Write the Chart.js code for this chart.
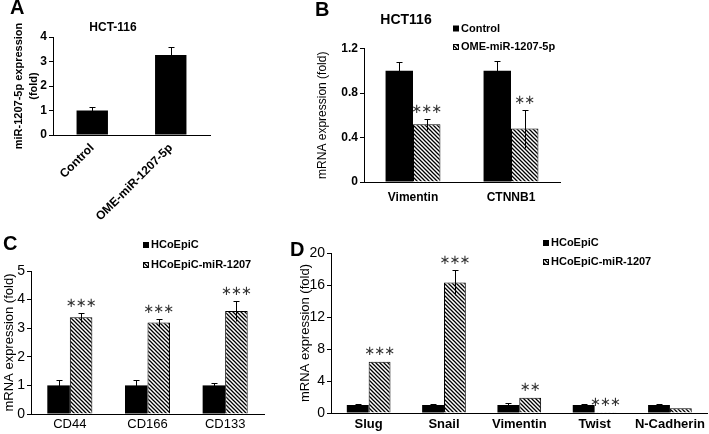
<!DOCTYPE html>
<html>
<head>
<meta charset="utf-8">
<script src="https://cdn.jsdelivr.net/npm/chart.js@4.4.1/dist/chart.umd.min.js"></script>
<style>
  html, body { margin: 0; padding: 0; background: #fff; }
  #fig { position: relative; width: 709px; height: 434px; overflow: hidden; }
  #fig canvas { position: absolute; }
  .tag { position: absolute; z-index: 5; color: #000; font: bold 20px/20px "Liberation Sans", Arial, sans-serif; }
</style>
</head>
<body>
<div id="fig">
  <canvas id="chartA" width="240" height="240" style="left:0;top:0"></canvas>
  <canvas id="chartB" width="469" height="215" style="left:240px;top:0"></canvas>
  <canvas id="chartC" width="296" height="219" style="left:0;top:215px"></canvas>
  <canvas id="chartD" width="413" height="219" style="left:296px;top:215px"></canvas>
  <div class="tag" style="left:10px;top:-3px">A</div>
  <div class="tag" style="left:315px;top:-1px">B</div>
  <div class="tag" style="left:3px;top:233px">C</div>
  <div class="tag" style="left:290px;top:239px">D</div>
</div>
<script>
// ── Data ──────────────────────────────────────────────────────
const aLabels = ['Control', 'OME-miR-1207-5p'];
const aValues = [1.0, 3.27];
const aErrors = [0.14, 0.32];

const bLabels     = ['Vimentin', 'CTNNB1'];
const bControl    = [1.0, 1.0];
const bControlErr = [0.08, 0.09];
const bOme        = [0.52, 0.48];
const bOmeErr     = [0.05, 0.17];
const bStars      = ['***', '**'];

const cLabels    = ['CD44', 'CD166', 'CD133'];
const cParent    = [1.0, 1.0, 1.0];
const cParentErr = [0.2, 0.2, 0.07];
const cMir       = [3.38, 3.2, 3.6];
const cMirErr    = [0.15, 0.13, 0.35];
const cStars     = ['***', '***', '***'];

const dLabels    = ['Slug', 'Snail', 'Vimentin', 'Twist', 'N-Cadherin'];
const dParent    = [1.0, 1.0, 1.0, 1.0, 1.0];
const dParentErr = [0.08, 0.1, 0.3, 0.12, 0.08];
const dMir       = [6.4, 16.3, 1.9, 0.1, 0.6];
const dMirErr    = [0, 1.6, 0, 0, 0];
const dStars     = ['***', '***', '**', '***', ''];

const FONT = '"Liberation Sans", Arial, sans-serif';

// diagonal hatch fill
function hatch(canvasId) {
  const s = 4;
  const c = document.createElement('canvas');
  c.width = s; c.height = s;
  const g = c.getContext('2d');
  g.fillStyle = '#fff';
  g.fillRect(0, 0, s, s);
  g.strokeStyle = '#000';
  g.lineWidth = 1.3;
  g.beginPath();
  g.moveTo(-1, -1); g.lineTo(s + 1, s + 1);
  g.moveTo(-1, s - 1); g.lineTo(1, s + 1);
  g.moveTo(s - 1, -1); g.lineTo(s + 1, 1);
  g.stroke();
  return document.getElementById(canvasId).getContext('2d').createPattern(c, 'repeat');
}

// ── Error bars, stars, titles, legends ────────────────────────
const decor = {
  id: 'decor',
  afterDatasetsDraw(chart, args, opts) {
    const ctx = chart.ctx;
    const yScale = chart.scales.y;
    ctx.save();
    chart.data.datasets.forEach((ds, di) => {
      chart.getDatasetMeta(di).data.forEach((bar, i) => {
        const v = ds.data[i];
        const e = ds.errors ? ds.errors[i] : 0;
        const x = Math.round(bar.x) + 0.5;
        let top = bar.y;
        if (e) {
          const yt = Math.round(yScale.getPixelForValue(v + e)) + 0.5;
          const yb = Math.round(yScale.getPixelForValue(v - e)) + 0.5;
          ctx.strokeStyle = '#000';
          ctx.lineWidth = 1;
          ctx.beginPath();
          ctx.moveTo(x, yb); ctx.lineTo(x, yt);
          ctx.moveTo(x - 3, yt); ctx.lineTo(x + 3, yt);
          ctx.stroke();
          top = yt;
        }
        const st = ds.stars ? ds.stars[i] : '';
        if (st) {
          ctx.fillStyle = '#333';
          ctx.font = '13px "DejaVu Sans", sans-serif';
          ctx.textAlign = 'center';
          ctx.textBaseline = 'middle';
          for (let k = 0; k < st.length; k++) {
            ctx.fillText('\u2217', bar.x + (k - (st.length - 1) / 2) * 10, top - 10);
          }
        }
      });
    });

    if (opts.title) {
      ctx.fillStyle = '#000';
      ctx.font = `bold ${opts.title.size}px ${FONT}`;
      ctx.textAlign = 'center';
      ctx.textBaseline = 'middle';
      ctx.fillText(opts.title.text, opts.title.x, opts.title.y);
    }

    if (opts.legend) {
      const L = opts.legend;
      chart.data.datasets.forEach((ds, di) => {
        const y = L.y + di * L.gap;
        ctx.fillStyle = ds.backgroundColor;
        ctx.fillRect(L.x, y - 3, 6, 6);
        if (ds.borderWidth) {
          ctx.strokeStyle = '#000';
          ctx.lineWidth = 1;
          ctx.strokeRect(L.x + 0.5, y - 2.5, 5, 5);
        }
        ctx.fillStyle = '#000';
        ctx.font = `bold 11px ${FONT}`;
        ctx.textAlign = 'left';
        ctx.textBaseline = 'middle';
        ctx.fillText(ds.label, L.x + 8, y);
      });
    }
    ctx.restore();
  }
};

// ── Shared chart builder ──────────────────────────────────────
function makeChart(id, p) {
  return new Chart(document.getElementById(id), {
    type: 'bar',
    data: { labels: p.labels, datasets: p.datasets },
    plugins: [decor],
    options: {
      responsive: false,
      animation: false,
      devicePixelRatio: 1,
      layout: { padding: { left: 0, top: p.top, right: p.right, bottom: 0 } },
      plugins: {
        legend: { display: false },
        tooltip: { enabled: false },
        decor: { title: p.title, legend: p.legend }
      },
      scales: {
        x: {
          grid: { display: false, drawTicks: false },
          border: { display: true, color: '#000', width: 1 },
          ticks: {
            color: '#000',
            font: p.xFont,
            padding: p.xPad,
            autoSkip: false,
            maxRotation: p.rot || 0,
            minRotation: p.rot || 0
          },
          afterFit: s => { s.height = p.xHeight; }
        },
        y: {
          min: 0,
          max: p.yMax,
          ticks: { stepSize: p.yStep, color: '#000', font: p.yFont, padding: 2 },
          grid: { display: true, drawOnChartArea: false, drawTicks: true, tickLength: 4, color: '#000' },
          border: { display: true, color: '#000', width: 1 },
          title: p.yTitle,
          afterFit: s => { s.width = p.yWidth; }
        }
      }
    }
  });
}

// ── Panel A ───────────────────────────────────────────────────
makeChart('chartA', {
  labels: aLabels,
  datasets: [{
    label: 'HCT-116', data: aValues, errors: aErrors,
    backgroundColor: '#000', categoryPercentage: 0.4, barPercentage: 1
  }],
  top: 37, right: 30, yWidth: 53, xHeight: 105,
  yMax: 4, yStep: 1, rot: 45, xPad: 6,
  xFont: { family: FONT, size: 12, weight: 'bold' },
  yFont: { family: FONT, size: 12, weight: 'bold' },
  yTitle: {
    display: true, text: ['miR-1207-5p expression', '(fold)'], color: '#000',
    font: { family: FONT, size: 11, weight: 'bold', lineHeight: 1.4 },
    padding: { top: 11.3, bottom: 0 }
  },
  title: { text: 'HCT-116', x: 113, y: 28, size: 12 }
});

// ── Panel B ───────────────────────────────────────────────────
makeChart('chartB', {
  labels: bLabels,
  datasets: [
    { label: 'Control', data: bControl, errors: bControlErr,
      backgroundColor: '#000', categoryPercentage: 0.56, barPercentage: 1 },
    { label: 'OME-miR-1207-5p', data: bOme, errors: bOmeErr, stars: bStars,
      backgroundColor: hatch('chartB'), borderColor: '#000', borderWidth: 1,
      categoryPercentage: 0.56, barPercentage: 1 }
  ],
  top: 48.5, right: 149, yWidth: 124, xHeight: 33,
  yMax: 1.2, yStep: 0.4, xPad: 8,
  xFont: { family: FONT, size: 12, weight: 'bold' },
  yFont: { family: FONT, size: 12, weight: 'bold' },
  yTitle: {
    display: true, text: 'mRNA expression (fold)', color: '#000',
    font: { family: FONT, size: 12 },
    padding: { top: 75.8, bottom: 0 }
  },
  title: { text: 'HCT116', x: 166, y: 20, size: 14 },
  legend: { x: 213, y: 28.5, gap: 18.5 }
});

// ── Panel C ───────────────────────────────────────────────────
makeChart('chartC', {
  labels: cLabels,
  datasets: [
    { label: 'HCoEpiC', data: cParent, errors: cParentErr,
      backgroundColor: '#000', categoryPercentage: 0.58, barPercentage: 1 },
    { label: 'HCoEpiC-miR-1207', data: cMir, errors: cMirErr, stars: cStars,
      backgroundColor: hatch('chartC'), borderColor: '#000', borderWidth: 1,
      categoryPercentage: 0.58, barPercentage: 1 }
  ],
  top: 56, right: 32, yWidth: 31, xHeight: 20,
  yMax: 5, yStep: 1, xPad: 3,
  xFont: { family: FONT, size: 13 },
  yFont: { family: FONT, size: 14 },
  yTitle: {
    display: true, text: 'mRNA expression (fold)', color: '#000',
    font: { family: FONT, size: 13 },
    padding: { top: 1.2, bottom: 0 }
  },
  legend: { x: 143, y: 30, gap: 20 }
});

// ── Panel D ───────────────────────────────────────────────────
makeChart('chartD', {
  labels: dLabels,
  datasets: [
    { label: 'HCoEpiC', data: dParent, errors: dParentErr,
      backgroundColor: '#000', categoryPercentage: 0.58, barPercentage: 1 },
    { label: 'HCoEpiC-miR-1207', data: dMir, errors: dMirErr, stars: dStars,
      backgroundColor: hatch('chartD'), borderColor: '#000', borderWidth: 1,
      categoryPercentage: 0.58, barPercentage: 1 }
  ],
  top: 38, right: 0.5, yWidth: 35, xHeight: 21,
  yMax: 20, yStep: 4, xPad: 4,
  xFont: { family: FONT, size: 13, weight: 'bold' },
  yFont: { family: FONT, size: 14 },
  yTitle: {
    display: true, text: 'mRNA expression (fold)', color: '#000',
    font: { family: FONT, size: 13 },
    padding: { top: 1.2, bottom: 0 }
  },
  legend: { x: 247, y: 28, gap: 19 }
});
</script>
</body>
</html>
